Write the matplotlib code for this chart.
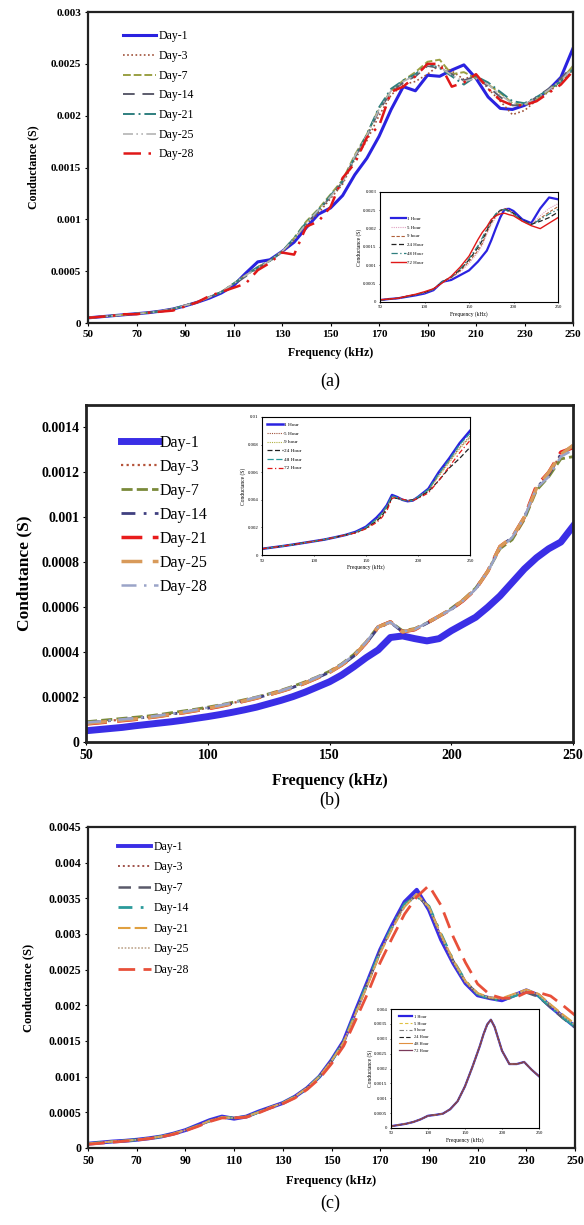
import matplotlib
matplotlib.use("Agg")
import matplotlib.pyplot as plt
import numpy as np

plt.rcParams['font.family'] = ['Liberation Serif', 'DejaVu Serif']

# frequency grids (kHz)
freq = list(range(50, 255, 5))
freq_in = [50, 60, 70, 80, 90, 100, 110, 120, 130, 140, 150, 160, 165, 170, 175,
           180, 185, 190, 195, 200, 210, 220, 230, 240, 250]

day_labels = ["Day-1", "Day-3", "Day-7", "Day-14", "Day-21", "Day-25", "Day-28"]
hour_labels = ["1 Hour", "5 Hour", "9 hour", "24 Hour", "48 Hour", "72 Hour"]

# ---------------- panel (a), conductance x1e-4 S ----------------
a_day1 = [0.5, 0.6, 0.7, 0.8, 0.9, 1.0, 1.15, 1.35, 1.65, 2.0, 2.4, 2.9, 3.6, 4.8, 5.9, 6.1, 6.9, 7.8, 9.2, 10.5, 11.1,
          12.3, 14.3, 15.9, 18.0, 20.6, 22.8, 22.4, 23.9, 23.8, 24.4, 24.9, 23.6, 21.8, 20.7, 20.6, 21.0, 21.6, 22.5, 23.7, 26.5]
a_day3 = [0.5, 0.6, 0.7, 0.8, 0.9, 1.0, 1.15, 1.35, 1.7, 2.0, 2.5, 3.0, 3.8, 4.6, 5.4, 6.0, 6.8, 8.0, 9.5, 10.6, 12.0,
          13.4, 15.8, 17.6, 20.0, 22.0, 23.0, 23.3, 24.0, 24.9, 24.3, 23.5, 24.0, 22.6, 21.4, 20.1, 20.5, 21.5, 22.3, 23.2, 24.4]
a_day7 = [0.5, 0.6, 0.7, 0.8, 0.9, 1.0, 1.15, 1.35, 1.7, 2.0, 2.5, 3.0, 3.8, 4.6, 5.4, 6.0, 6.9, 8.2, 9.8, 11.0, 12.4,
          13.8, 16.2, 18.2, 20.7, 22.4, 23.4, 24.2, 25.2, 25.4, 24.0, 24.2, 23.6, 23.0, 22.2, 21.2, 21.0, 21.6, 22.4, 23.4, 24.8]
a_day14 = [0.5, 0.6, 0.7, 0.8, 0.9, 1.0, 1.15, 1.35, 1.7, 2.0, 2.5, 3.0, 3.7, 4.5, 5.3, 6.0, 6.9, 8.1, 9.6, 10.8, 12.2,
           13.6, 16.0, 18.0, 20.5, 22.3, 23.2, 23.8, 24.8, 24.6, 24.0, 23.4, 23.8, 22.8, 21.8, 21.0, 21.0, 21.8, 22.6, 23.6, 24.8]
a_day21 = [0.5, 0.6, 0.7, 0.8, 0.9, 1.0, 1.15, 1.35, 1.7, 2.0, 2.5, 3.0, 3.8, 4.6, 5.4, 6.0, 6.9, 8.2, 9.7, 10.9, 12.3,
           13.7, 16.0, 18.2, 20.8, 22.6, 23.4, 24.0, 25.0, 24.6, 23.8, 23.0, 23.8, 23.2, 22.3, 21.4, 21.2, 21.8, 22.5, 23.3, 24.5]
a_day25 = [0.5, 0.6, 0.7, 0.8, 0.9, 1.0, 1.15, 1.35, 1.7, 2.0, 2.5, 3.0, 3.8, 4.6, 5.3, 6.0, 6.9, 8.1, 9.6, 10.9, 12.2,
           13.6, 16.1, 18.1, 20.6, 22.4, 23.3, 23.9, 24.9, 24.7, 23.9, 23.3, 23.6, 23.0, 22.0, 21.2, 21.1, 21.7, 22.5, 23.4, 24.6]
a_day28 = [0.5, 0.6, 0.7, 0.85, 0.85, 1.0, 1.1, 1.2, 1.6, 2.0, 2.6, 3.0, 3.4, 3.8, 5.1, 5.8, 6.8, 6.6, 9.3, 9.8, 11.2,
           14.0, 15.4, 17.9, 19.0, 22.3, 22.8, 23.8, 25.0, 25.0, 22.8, 23.2, 24.0, 22.6, 21.5, 21.0, 21.0, 21.4, 22.2, 23.0, 24.3]

ai_1h = [0.5, 0.8, 1.0, 1.4, 1.8, 2.3, 3.2, 5.5, 6.0, 7.3, 8.6, 11.0, 12.5, 14.0, 16.8, 20.0, 23.0, 25.3, 25.4, 24.8,
         22.5, 21.5, 25.5, 28.5, 28.0]
ai_5h = [0.5, 0.8, 1.0, 1.5, 2.0, 2.5, 3.4, 5.4, 6.5, 8.2, 10.5, 13.5, 15.5, 18.5, 21.0, 23.0, 24.5, 25.5, 25.0, 24.2,
         22.0, 21.2, 23.5, 25.5, 26.8]
ai_9h = [0.5, 0.8, 1.0, 1.5, 2.0, 2.6, 3.5, 5.5, 6.6, 8.5, 11.0, 14.0, 16.0, 19.0, 21.5, 23.5, 24.8, 25.5, 25.0, 24.0,
         22.0, 21.0, 22.8, 24.5, 26.0]
ai_24h = [0.5, 0.8, 1.0, 1.5, 2.0, 2.6, 3.5, 5.5, 6.8, 8.8, 11.5, 14.8, 16.8, 19.5, 22.0, 23.8, 25.0, 25.3, 24.8, 24.2,
          22.3, 21.2, 22.0, 23.0, 24.5]
ai_48h = [0.5, 0.8, 1.0, 1.5, 2.0, 2.6, 3.5, 5.6, 6.8, 9.0, 11.8, 15.3, 17.5, 20.0, 22.3, 24.0, 25.0, 25.2, 24.6, 24.0,
          22.2, 21.0, 22.5, 24.0, 25.2]
ai_72h = [0.6, 0.8, 1.0, 1.6, 2.1, 2.8, 3.6, 5.2, 7.0, 9.5, 12.5, 17.0, 19.0, 20.5, 22.5, 23.5, 24.0, 24.2, 23.8, 23.5,
          22.0, 20.8, 20.0, 21.5, 23.0]

# ---------------- panel (b), conductance x1e-4 S ----------------
b_day1 = [0.5, 0.55, 0.6, 0.65, 0.72, 0.78, 0.84, 0.9, 0.97, 1.05, 1.13, 1.22, 1.32, 1.43, 1.55, 1.7, 1.85, 2.02, 2.22, 2.45,
          2.68, 2.98, 3.35, 3.75, 4.1, 4.65, 4.72, 4.6, 4.5, 4.6, 4.95, 5.25, 5.55, 6.0, 6.5, 7.1, 7.7, 8.2, 8.6, 8.9, 9.6]
b_day3 = [0.85, 0.9, 0.95, 1.0, 1.05, 1.1, 1.17, 1.25, 1.33, 1.42, 1.52, 1.62, 1.73, 1.85, 1.98, 2.12, 2.27, 2.45, 2.65, 2.88,
          3.12, 3.45, 3.85, 4.4, 5.1, 5.35, 4.9, 5.0, 5.3, 5.6, 5.9, 6.3, 6.8, 7.6, 8.7, 9.1, 10.0, 11.3, 11.9, 12.8, 13.1]
b_day7 = [0.9, 0.95, 1.0, 1.05, 1.1, 1.15, 1.22, 1.3, 1.38, 1.46, 1.55, 1.65, 1.76, 1.88, 2.0, 2.14, 2.3, 2.48, 2.68, 2.9,
          3.15, 3.48, 3.9, 4.45, 5.15, 5.35, 4.95, 5.05, 5.3, 5.6, 5.95, 6.35, 6.85, 7.6, 8.6, 9.0, 9.9, 11.2, 11.8, 12.6, 12.7]
b_day14 = [0.85, 0.9, 0.95, 1.0, 1.05, 1.1, 1.17, 1.24, 1.32, 1.41, 1.5, 1.6, 1.71, 1.83, 1.96, 2.1, 2.25, 2.43, 2.63, 2.86,
           3.1, 3.42, 3.82, 4.38, 5.08, 5.32, 4.9, 5.0, 5.28, 5.58, 5.9, 6.3, 6.8, 7.6, 8.7, 9.1, 10.0, 11.3, 11.9, 12.8, 13.2]
b_day21 = [0.8, 0.85, 0.9, 0.95, 1.0, 1.07, 1.14, 1.22, 1.3, 1.39, 1.48, 1.58, 1.7, 1.82, 1.95, 2.1, 2.25, 2.42, 2.62, 2.85,
           3.1, 3.42, 3.82, 4.4, 5.12, 5.35, 4.9, 5.0, 5.3, 5.6, 5.9, 6.3, 6.8, 7.6, 8.7, 9.1, 10.0, 11.4, 12.0, 12.9, 13.1]
b_day25 = [0.82, 0.87, 0.92, 0.97, 1.02, 1.08, 1.15, 1.23, 1.31, 1.4, 1.5, 1.6, 1.71, 1.83, 1.96, 2.1, 2.26, 2.43, 2.63, 2.86,
           3.1, 3.43, 3.83, 4.42, 5.12, 5.34, 4.9, 5.02, 5.3, 5.6, 5.92, 6.32, 6.8, 7.6, 8.7, 9.1, 10.0, 11.3, 12.0, 12.8, 13.2]
b_day28 = [0.86, 0.91, 0.96, 1.01, 1.06, 1.11, 1.18, 1.26, 1.34, 1.43, 1.53, 1.63, 1.74, 1.86, 1.99, 2.13, 2.28, 2.46, 2.66, 2.89,
           3.13, 3.46, 3.86, 4.44, 5.13, 5.33, 4.92, 5.02, 5.3, 5.6, 5.9, 6.3, 6.8, 7.6, 8.6, 9.1, 10.0, 11.3, 11.8, 12.7, 13.0]

# inset (b), conductance x1e-3 S
bi_1h = [0.45, 0.55, 0.65, 0.76, 0.88, 1.0, 1.12, 1.28, 1.45, 1.68, 2.05, 2.7, 3.1, 3.6, 4.35, 4.2, 4.0, 3.9, 3.95, 4.2,
         4.8, 6.0, 7.0, 8.1, 9.0]
bi_5h = [0.45, 0.55, 0.65, 0.76, 0.88, 1.0, 1.12, 1.28, 1.45, 1.65, 1.98, 2.55, 2.95, 3.5, 4.25, 4.15, 4.0, 3.9, 3.95, 4.15,
         4.7, 5.8, 6.8, 7.8, 8.6]
bi_9h = [0.45, 0.55, 0.65, 0.76, 0.88, 1.0, 1.12, 1.28, 1.45, 1.62, 1.95, 2.5, 2.9, 3.45, 4.2, 4.15, 4.0, 3.95, 4.0, 4.2,
         4.7, 5.7, 6.7, 7.7, 8.5]
bi_24h = [0.45, 0.55, 0.65, 0.76, 0.88, 1.0, 1.12, 1.28, 1.45, 1.62, 1.95, 2.45, 2.8, 3.35, 4.15, 4.1, 4.0, 3.95, 4.0, 4.15,
          4.6, 5.4, 6.3, 7.0, 7.8]
bi_48h = [0.45, 0.55, 0.65, 0.76, 0.88, 1.0, 1.12, 1.28, 1.45, 1.65, 2.0, 2.6, 3.0, 3.55, 4.3, 4.15, 4.0, 3.9, 3.95, 4.2,
          4.75, 5.9, 6.9, 8.0, 8.8]
bi_72h = [0.45, 0.55, 0.65, 0.76, 0.88, 1.0, 1.12, 1.28, 1.45, 1.6, 1.9, 2.35, 2.7, 3.2, 4.1, 4.2, 4.05, 3.95, 3.95, 4.1,
          4.5, 5.4, 6.4, 7.4, 8.3]

# ---------------- panel (c), conductance x1e-4 S ----------------
c_day1 = [0.6, 0.75, 0.9, 1.0, 1.15, 1.35, 1.6, 2.0, 2.5, 3.2, 3.9, 4.4, 4.1, 4.4, 5.1, 5.7, 6.3, 7.2, 8.4, 10.0, 12.3,
          15.0, 19.3, 23.5, 27.8, 31.3, 34.5, 36.2, 33.4, 29.2, 25.9, 23.1, 21.4, 21.0, 20.7, 21.4, 22.1, 21.4, 19.8, 18.4, 17.0]
c_day3 = [0.6, 0.75, 0.9, 1.0, 1.15, 1.35, 1.6, 2.0, 2.5, 3.1, 3.8, 4.3, 4.2, 4.4, 5.0, 5.7, 6.3, 7.2, 8.4, 10.0, 12.2,
          14.9, 19.0, 23.2, 27.5, 31.0, 34.0, 35.5, 33.6, 29.6, 26.0, 23.2, 21.5, 21.0, 20.9, 21.5, 22.0, 21.5, 20.0, 18.6, 17.3]
c_day7 = [0.6, 0.75, 0.9, 1.0, 1.15, 1.35, 1.6, 2.0, 2.5, 3.1, 3.8, 4.3, 4.2, 4.4, 5.0, 5.7, 6.3, 7.2, 8.4, 10.0, 12.2,
          14.9, 19.0, 23.3, 27.6, 31.0, 34.2, 35.4, 33.8, 29.8, 26.2, 23.3, 21.6, 21.0, 20.8, 21.4, 21.8, 21.2, 19.7, 18.2, 16.9]
c_day14 = [0.6, 0.75, 0.9, 1.0, 1.15, 1.35, 1.6, 2.0, 2.5, 3.1, 3.8, 4.3, 4.2, 4.4, 5.0, 5.7, 6.3, 7.2, 8.4, 10.0, 12.2,
           14.9, 19.1, 23.4, 27.6, 31.1, 34.2, 35.3, 33.9, 30.0, 26.3, 23.4, 21.6, 20.9, 20.7, 21.3, 21.9, 21.3, 19.8, 18.3, 17.0]
c_day21 = [0.6, 0.75, 0.9, 1.0, 1.15, 1.35, 1.6, 2.0, 2.5, 3.1, 3.8, 4.3, 4.2, 4.4, 5.0, 5.7, 6.3, 7.2, 8.4, 10.0, 12.2,
           14.8, 18.9, 23.0, 27.3, 30.8, 33.8, 35.6, 33.8, 29.9, 26.3, 23.4, 21.7, 21.1, 21.0, 21.6, 22.2, 21.6, 20.1, 18.7, 17.4]
c_day25 = [0.6, 0.75, 0.9, 1.0, 1.15, 1.35, 1.6, 2.0, 2.5, 3.1, 3.8, 4.3, 4.2, 4.4, 5.0, 5.7, 6.3, 7.2, 8.4, 10.0, 12.2,
           14.8, 18.9, 23.1, 27.4, 30.9, 33.9, 35.5, 33.7, 29.7, 26.1, 23.3, 21.6, 21.1, 20.9, 21.5, 22.1, 21.5, 20.0, 18.5, 17.2]
c_day28 = [0.5, 0.65, 0.8, 0.95, 1.1, 1.3, 1.55, 1.9, 2.4, 3.0, 3.7, 4.2, 4.2, 4.3, 4.9, 5.6, 6.2, 7.0, 8.2, 9.7, 11.8,
           14.3, 18.0, 21.8, 26.0, 29.5, 32.8, 35.2, 36.8, 34.0, 29.6, 26.0, 23.0, 21.5, 21.0, 21.0, 21.8, 21.8, 21.3, 20.0, 18.6]

ci_1h = [0.6, 1.0, 1.4, 2.0, 2.9, 4.1, 4.4, 4.8, 6.3, 9.0, 14.0, 20.5, 24.0, 27.5, 31.5, 34.8, 36.4, 34.0, 30.0, 26.0,
         21.5, 21.5, 22.2, 19.6, 17.4]
ci_5h = [0.6, 1.0, 1.4, 2.0, 2.9, 4.1, 4.4, 4.8, 6.3, 9.0, 14.0, 20.4, 24.0, 27.5, 31.4, 34.8, 36.3, 34.0, 30.0, 26.0,
         21.5, 21.5, 22.1, 19.6, 17.4]
ci_9h = [0.6, 1.0, 1.4, 2.0, 2.9, 4.1, 4.4, 4.8, 6.3, 9.0, 14.0, 20.5, 24.1, 27.6, 31.5, 34.8, 36.4, 34.1, 30.0, 26.0,
         21.5, 21.4, 22.2, 19.6, 17.3]
ci_24h = [0.6, 1.0, 1.4, 2.0, 2.9, 4.1, 4.4, 4.8, 6.3, 9.0, 14.0, 20.5, 24.0, 27.5, 31.5, 34.7, 36.4, 34.0, 30.0, 26.0,
          21.5, 21.5, 22.2, 19.6, 17.4]
ci_48h = [0.6, 1.0, 1.4, 2.0, 2.9, 4.1, 4.4, 4.8, 6.3, 9.0, 14.0, 20.5, 24.0, 27.5, 31.5, 34.8, 36.4, 34.0, 30.0, 26.0,
          21.5, 21.5, 22.2, 19.6, 17.4]
ci_72h = [0.6, 1.0, 1.4, 2.0, 2.9, 4.1, 4.4, 4.8, 6.3, 9.0, 14.0, 20.5, 24.0, 27.5, 31.5, 34.8, 36.4, 34.0, 30.0, 26.0,
          21.5, 21.5, 22.2, 19.6, 17.4]

# tick labels
a_yticks = [0, 0.0005, 0.001, 0.0015, 0.002, 0.0025, 0.003]
a_ylabels = ["0", "0.0005", "0.001", "0.0015", "0.002", "0.0025", "0.003"]
b_yticks = [0, 0.0002, 0.0004, 0.0006, 0.0008, 0.001, 0.0012, 0.0014]
b_ylabels = ["0", "0.0002", "0.0004", "0.0006", "0.0008", "0.001", "0.0012", "0.0014"]
c_yticks = [0, 0.0005, 0.001, 0.0015, 0.002, 0.0025, 0.003, 0.0035, 0.004, 0.0045]
c_ylabels = ["0", "0.0005", "0.001", "0.0015", "0.002", "0.0025", "0.003", "0.0035", "0.004", "0.0045"]
x20 = [50, 70, 90, 110, 130, 150, 170, 190, 210, 230, 250]
x50 = [50, 100, 150, 200, 250]
bi_yticks = [0, 0.002, 0.004, 0.006, 0.008, 0.01]
bi_ylabels = ["0", "0.002", "0.004", "0.006", "0.008", "0.01"]
ci_yticks = [0, 0.0005, 0.001, 0.0015, 0.002, 0.0025, 0.003, 0.0035, 0.004]
ci_ylabels = ["0", "0.0005", "0.001", "0.0015", "0.002", "0.0025", "0.003", "0.0035", "0.004"]

# styles (colour, linestyle, linewidth)
a_styles = [("#2a22e0", "-", 2.2), ("#a0523a", (0, (1, 1.5)), 1.2), ("#9aa044", (0, (4, 1.5)), 1.4),
            ("#5c5c6c", (0, (6, 4)), 1.4), ("#2f7f7f", (0, (6, 2, 1, 2)), 1.4), ("#b4b4b4", (0, (6, 2, 1, 2, 1, 2)), 1.2),
            ("#e01818", (0, (7, 3, 1, 3)), 1.8)]
b_styles = [("#3a2ee6", "-", 5.0), ("#b5543a", (0, (1, 1.5)), 1.6), ("#7a8a3a", (0, (4, 1.5)), 2.0),
            ("#404080", (0, (5, 3, 1, 3)), 2.0), ("#e81c1c", (0, (6, 3)), 2.5), ("#d89a5a", (0, (6, 3)), 2.5),
            ("#9aa4c8", (0, (6, 3, 1, 3)), 1.8)]
c_styles = [("#3a2ee6", "-", 2.8), ("#a0524a", (0, (1, 1.5)), 1.4), ("#5a5a6a", (0, (5, 3)), 1.8),
            ("#2a9a9a", (0, (5, 3, 1, 3)), 2.0), ("#e0a040", (0, (6, 2)), 1.5), ("#c0a890", (0, (1, 1)), 1.2),
            ("#e8503a", (0, (6, 3)), 2.0)]
ai_styles = [("#2a22e0", "-", 1.6), ("#e0a0c0", (0, (1, 1)), 0.8), ("#b0603a", (0, (3, 1.5)), 0.8),
             ("#222222", (0, (4, 2)), 0.9), ("#2f7f7f", (0, (5, 2, 1, 2)), 0.9), ("#e01818", "-", 1.0)]
bi_styles = [("#2a22e0", "-", 1.8), ("#a0523a", (0, (1, 1)), 0.8), ("#b0b040", (0, (1, 1)), 0.8),
             ("#222222", (0, (4, 2)), 0.9), ("#2a9a9a", (0, (5, 2)), 0.9), ("#e01818", (0, (4, 2, 1, 2)), 0.9)]
ci_styles = [("#2a22e0", "-", 1.6), ("#e0c040", (0, (3, 2)), 0.8), ("#808080", (0, (4, 2, 1, 2)), 0.8),
             ("#222222", (0, (4, 2)), 0.8), ("#e09040", "-", 0.8), ("#7a3a5a", "-", 0.9)]

fig = plt.figure(figsize=(5.84, 12.25), dpi=100)


def style_axes(ax, xt, yt, ylab, fs, lw=1.6):
    ax.set_xlim(50, 250)
    ax.set_xticks(xt)
    ax.set_xticklabels([str(v) for v in xt], fontsize=fs, fontweight='bold')
    ax.set_yticks(yt)
    ax.set_yticklabels(ylab, fontsize=fs, fontweight='bold')
    ax.tick_params(length=2, width=0.8, pad=3)
    for s in ax.spines.values():
        s.set_linewidth(lw)
        s.set_color('#222222')


def style_inset(ax, yt, ylab):
    ax.set_xlim(50, 250)
    ax.set_ylim(yt[0], yt[-1])
    ax.set_xticks(x50)
    ax.set_xticklabels([str(v) for v in x50], fontsize=3.5)
    ax.set_yticks(yt)
    ax.set_yticklabels(ylab, fontsize=3.5)
    ax.tick_params(length=1, width=0.5, pad=1.5)
    ax.set_xlabel("Frequency (kHz)", fontsize=4, labelpad=1)
    ax.set_ylabel("Conductance (S)", fontsize=4, labelpad=1)
    for s in ax.spines.values():
        s.set_linewidth(0.8)


# ---------------- (a) ----------------
ax1 = fig.add_axes([0.1507, 0.7363, 0.8305, 0.2539])
for vals, lab, (c, ls, lw) in zip([a_day1, a_day3, a_day7, a_day14, a_day21, a_day25, a_day28], day_labels, a_styles):
    ax1.plot(freq, np.array(vals) * 1e-4, color=c, linestyle=ls, linewidth=lw, label=lab)
ax1.set_ylim(0, 0.003)
style_axes(ax1, x20, a_yticks, a_ylabels, 8)
ax1.set_xlabel("Frequency (kHz)", fontsize=8.5, fontweight='bold', labelpad=6)
ax1.set_ylabel("Conductance (S)", fontsize=8.5, fontweight='bold', labelpad=8)
ax1.legend(loc='upper left', bbox_to_anchor=(0.06, 0.96), frameon=False, fontsize=8.5,
           handlelength=2.8, handletextpad=0.2, labelspacing=0.65, borderpad=0)

ins1 = fig.add_axes([0.6507, 0.7535, 0.3048, 0.0898])
for vals, lab, (c, ls, lw) in zip([ai_1h, ai_5h, ai_9h, ai_24h, ai_48h, ai_72h], hour_labels, ai_styles):
    ins1.plot(freq_in, np.array(vals) * 1e-4, color=c, linestyle=ls, linewidth=lw, label=lab)
style_inset(ins1, a_yticks, a_ylabels)
ins1.legend(loc='upper left', bbox_to_anchor=(0.05, 0.8), frameon=False, fontsize=3.5,
            handlelength=3, handletextpad=0.3, labelspacing=0.9, borderpad=0)
fig.text(0.565, 1 - 381 / 1225, "(a)", ha='center', va='center', fontsize=13)

# ---------------- (b) ----------------
ax2 = fig.add_axes([0.1473, 0.3943, 0.8339, 0.2751])
for vals, lab, (c, ls, lw) in zip([b_day1, b_day3, b_day7, b_day14, b_day21, b_day25, b_day28], day_labels, b_styles):
    ax2.plot(freq, np.array(vals) * 1e-4, color=c, linestyle=ls, linewidth=lw, label=lab)
ax2.set_ylim(0, 0.0015)
style_axes(ax2, x50, b_yticks, b_ylabels, 10, lw=2)
ax2.set_xlabel("Frequency (kHz)", fontsize=11.5, fontweight='bold', labelpad=8)
ax2.set_ylabel("Condutance (S)", fontsize=12.5, fontweight='bold', labelpad=6)
ax2.legend(loc='upper left', bbox_to_anchor=(0.055, 0.935), frameon=False, fontsize=11.5,
           handlelength=2.3, handletextpad=0.15, labelspacing=0.5, borderpad=0)

ins2 = fig.add_axes([0.4486, 0.5469, 0.3562, 0.1127])
for vals, lab, (c, ls, lw) in zip([bi_1h, bi_5h, bi_9h, bi_24h, bi_48h, bi_72h], hour_labels, bi_styles):
    ins2.plot(freq_in, np.array(vals) * 1e-3, color=c, linestyle=ls, linewidth=lw, label=lab)
style_inset(ins2, bi_yticks, bi_ylabels)
ins2.legend(loc='upper left', bbox_to_anchor=(0.01, 0.98), frameon=False, fontsize=3.8,
            handlelength=3, handletextpad=0.2, labelspacing=0.75, borderpad=0)
fig.text(0.565, 1 - 800 / 1225, "(b)", ha='center', va='center', fontsize=13)

# ---------------- (c) ----------------
ax3 = fig.add_axes([0.1507, 0.0629, 0.8339, 0.262])
for vals, lab, (c, ls, lw) in zip([c_day1, c_day3, c_day7, c_day14, c_day21, c_day25, c_day28], day_labels, c_styles):
    ax3.plot(freq, np.array(vals) * 1e-4, color=c, linestyle=ls, linewidth=lw, label=lab)
ax3.set_ylim(0, 0.0045)
style_axes(ax3, x20, c_yticks, c_ylabels, 8.5)
ax3.set_xlabel("Frequency (kHz)", fontsize=9, fontweight='bold', labelpad=6)
ax3.set_ylabel("Conductance (S)", fontsize=9, fontweight='bold', labelpad=10)
ax3.legend(loc='upper left', bbox_to_anchor=(0.05, 0.975), frameon=False, fontsize=8.5,
           handlelength=2.8, handletextpad=0.2, labelspacing=0.72, borderpad=0)

ins3 = fig.add_axes([0.6695, 0.0792, 0.2534, 0.0971])
for vals, lab, (c, ls, lw) in zip([ci_1h, ci_5h, ci_9h, ci_24h, ci_48h, ci_72h], hour_labels, ci_styles):
    ins3.plot(freq_in, np.array(vals) * 1e-4, color=c, linestyle=ls, linewidth=lw, label=lab)
style_inset(ins3, ci_yticks, ci_ylabels)
ins3.legend(loc='upper left', bbox_to_anchor=(0.04, 0.97), frameon=False, fontsize=3.2,
            handlelength=3, handletextpad=0.3, labelspacing=0.6, borderpad=0)
fig.text(0.565, 1 - 1203 / 1225, "(c)", ha='center', va='center', fontsize=13)

fig.savefig("out.png", dpi=100)
